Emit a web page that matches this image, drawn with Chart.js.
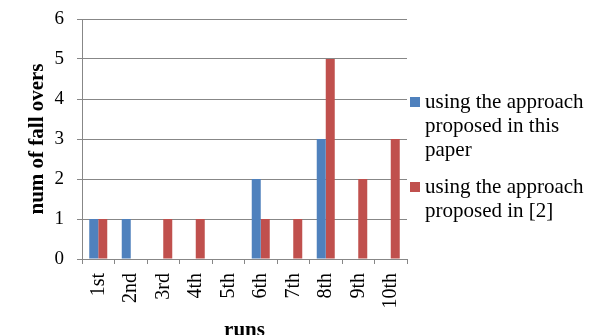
<!DOCTYPE html>
<html>
<head>
<meta charset="utf-8">
<script src="https://cdn.jsdelivr.net/npm/chart.js@4.4.0/dist/chart.umd.min.js"></script>
<style>
  html, body { margin: 0; padding: 0; background: #ffffff; }
  #wrap { position: relative; width: 594px; height: 335px; }
</style>
</head>
<body>
<div id="wrap"><canvas id="chart" width="594" height="335"></canvas></div>
<script>
// Runs on the x axis
const runs = ['1st', '2nd', '3rd', '4th', '5th', '6th', '7th', '8th', '9th', '10th'];
// Fall-over counts per run
const thisPaper = [1, 1, 0, 0, 0, 2, 0, 3, 0, 0];
const ref2 = [1, 0, 1, 1, 0, 1, 1, 5, 2, 3];
// Legend text, one entry per line
const labelThisPaper = ['using the approach', 'proposed in this', 'paper'];
const labelRef2 = ['using the approach', 'proposed in [2]'];
// Value axis ticks
const yTicks = [0, 1, 2, 3, 4, 5, 6];

const SERIF = '"Liberation Serif", "Times New Roman", serif';
const GRID = '#878787';

// Legend on the right with wrapped entries
const sideLegend = {
  id: 'sideLegend',
  afterDraw(chart) {
    const ctx = chart.ctx;
    const x0 = chart.chartArea.right + 3;
    const tops = [102, 187];
    const lineH = 24;
    ctx.save();
    ctx.font = '21px ' + SERIF;
    ctx.textBaseline = 'middle';
    ctx.textAlign = 'left';
    chart.data.datasets.forEach((ds, i) => {
      const y = tops[i];
      ctx.fillStyle = ds.backgroundColor;
      ctx.fillRect(x0, y - 5, 10, 10);
      ctx.fillStyle = '#000000';
      ds.label.forEach((line, j) => {
        ctx.fillText(line, x0 + 15, y + j * lineH);
      });
    });
    ctx.restore();
  }
};

new Chart(document.getElementById('chart'), {
  type: 'bar',
  data: {
    labels: runs,
    datasets: [
      { label: labelThisPaper, data: thisPaper, backgroundColor: '#4F81BD', categoryPercentage: 0.554, barPercentage: 1.0 },
      { label: labelRef2, data: ref2, backgroundColor: '#C0504D', categoryPercentage: 0.554, barPercentage: 1.0 }
    ]
  },
  options: {
    responsive: false,
    animation: false,
    layout: { padding: { top: 19, right: 187, bottom: 0, left: 0 } },
    plugins: {
      legend: { display: false },
      tooltip: { enabled: false }
    },
    scales: {
      x: {
        grid: { display: true, drawOnChartArea: false, drawTicks: true, tickLength: 5, color: GRID, offset: true },
        border: { display: true, color: GRID, width: 1 },
        ticks: { color: '#000000', font: { family: SERIF, size: 20 }, minRotation: 90, maxRotation: 90, padding: 9 },
        title: { display: true, text: 'runs', color: '#000000', font: { family: SERIF, size: 21, weight: 'bold' }, padding: { top: 0, bottom: -8 } },
        afterFit(scale) { scale.height = 76; scale.paddingLeft = 0; scale.paddingRight = 0; }
      },
      y: {
        min: 0, max: 6,
        afterBuildTicks(scale) { scale.ticks = yTicks.map(v => ({ value: v })); },
        grid: { color: GRID, tickLength: 5, drawTicks: true },
        border: { display: true, color: GRID, width: 1 },
        ticks: { color: '#000000', font: { family: SERIF, size: 19 }, padding: 13 },
        title: { display: true, text: 'num of fall overs', color: '#000000', font: { family: SERIF, size: 21, weight: 'bold' }, padding: { top: 25, bottom: 0 } },
        afterFit(scale) { scale.width = 82; scale.paddingTop = 0; scale.paddingBottom = 0; }
      }
    }
  },
  plugins: [sideLegend]
});
</script>
</body>
</html>
